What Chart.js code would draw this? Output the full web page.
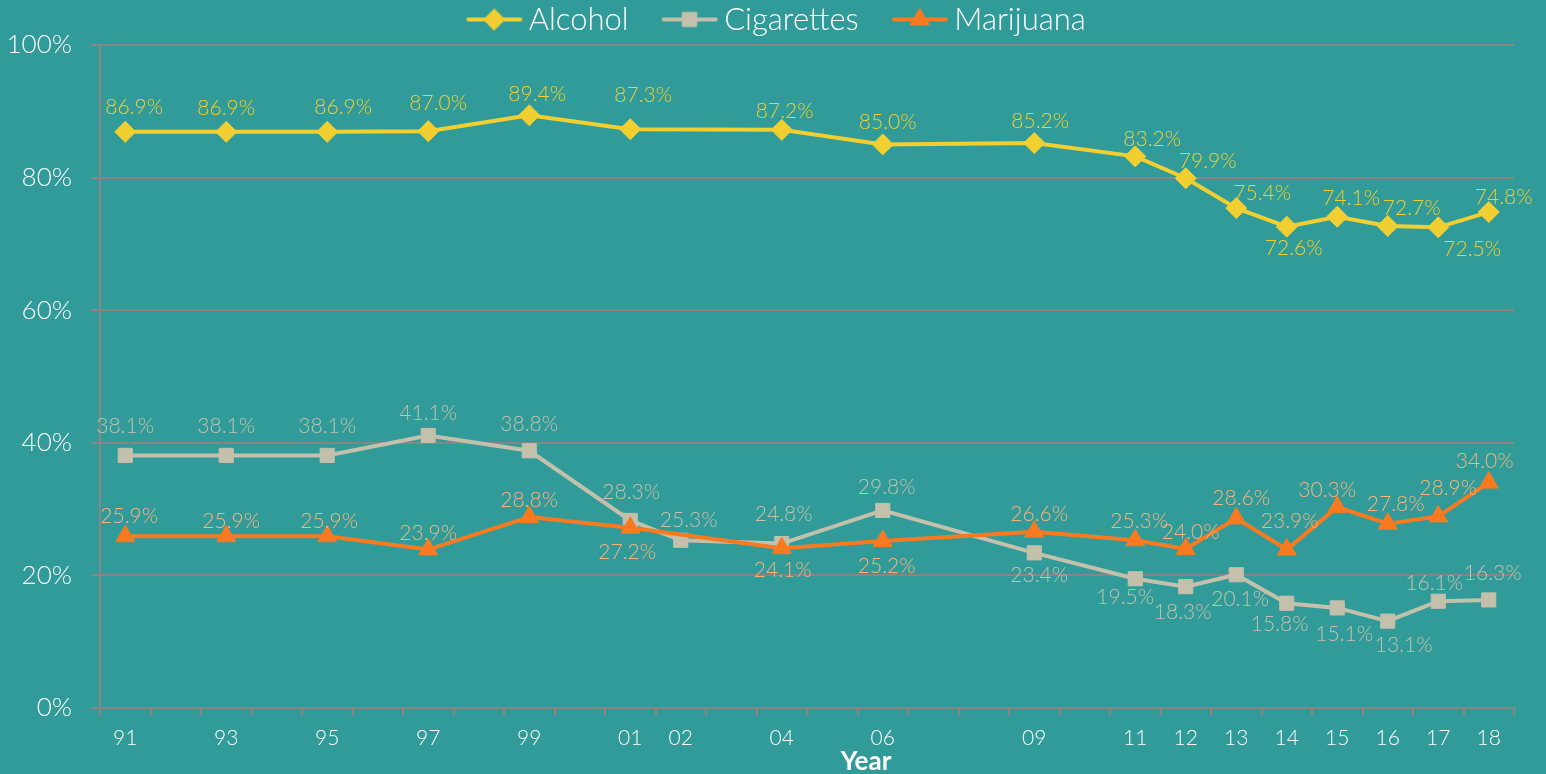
<!DOCTYPE html>
<html>
<head>
<meta charset="utf-8">
<script src="https://cdn.jsdelivr.net/npm/chart.js@4.4.1/dist/chart.umd.min.js"></script>
<style>
  html, body { margin: 0; padding: 0; background: #309b99; }
</style>
</head>
<body>
<canvas id="usageChart" width="1546" height="774"></canvas>
<script>
// one axis slot per year 1991-2018, only survey years carry a label
const axisLabels = ['91', '', '93', '', '95', '', '97', '', '99', '', '01', '02', '', '04', '', '06', '', '', '09', '', '11', '12', '13', '14', '15', '16', '17', '18'];
const surveyYears = ['91', '93', '95', '97', '99', '01', '02', '04', '06', '09', '11', '12', '13', '14', '15', '16', '17', '18'];

const alcohol = [86.9, 86.9, 86.9, 87.0, 89.4, 87.3, null, 87.2, 85.0, 85.2, 83.2, 79.9, 75.4, 72.6, 74.1, 72.7, 72.5, 74.8];
const cigarettes = [38.1, 38.1, 38.1, 41.1, 38.8, 28.3, 25.3, 24.8, 29.8, 23.4, 19.5, 18.3, 20.1, 15.8, 15.1, 13.1, 16.1, 16.3];
const marijuana = [25.9, 25.9, 25.9, 23.9, 28.8, 27.2, null, 24.1, 25.2, 26.6, 25.3, 24.0, 28.6, 23.9, 30.3, 27.8, 28.9, 34.0];
const yTicks = [0, 20, 40, 60, 80, 100];

// where each value label sits relative to its marker (dx, dy in px)
const alcoholLabelPos = [[9, -25], [0, -24], [16, -25], [10, -28], [8, -21], [13, -34], null, [3, -19], [5, -22], [6, -22], [17, -17], [22, -17], [26, -15], [7, 22], [14, -18], [24, -18], [34, 22], [15, -15]];
const cigarettesLabelPos = [[0, -29], [0, -29], [0, -29], [0, -22], [0, -27], [1, -28], [8, -20], [2, -29], [4, -23], [5, 22], [-10, 19], [-3, 26], [4, 24], [-7, 21], [7, 26], [16, 24], [-4, -18], [4, -27]];
const marijuanaLabelPos = [[4, -20], [5, -15], [2, -15], [0, -16], [0, -17], [-3, 25], null, [1, 22], [4, 25], [5, -17], [4, -19], [5, -17], [5, -20], [3, -28], [-10, -17], [8, -19], [10, -28], [-4, -21]];

const YELLOW = '#f2cf30';
const GREY = '#c3c1ac';
const ORANGE = '#f77a21';
const GRID = '#8a8483';
const FONT = 'Lato';

const labelPos = [alcoholLabelPos, cigarettesLabelPos, marijuanaLabelPos];
const labelColors = [YELLOW, '#c4c2ad', '#f5b480'];

function toSlots (values) {
  return axisLabels.map(l => {
    const i = surveyYears.indexOf(l);
    return i < 0 ? null : values[i];
  });
}

// legend swatch: short line with the series marker in the middle
function legendIcon (color, style, radius) {
  const c = document.createElement('canvas');
  c.width = 110;
  c.height = 28;
  const g = c.getContext('2d');
  g.strokeStyle = color;
  g.lineWidth = 4;
  g.lineCap = 'round';
  g.beginPath();
  g.moveTo(50, 14);
  g.lineTo(102, 14);
  g.stroke();
  g.fillStyle = color;
  g.lineWidth = 1;
  Chart.helpers.drawPoint(g, { pointStyle: style, radius: radius, rotation: 0, borderWidth: 1 }, 76, 14);
  return c;
}

const valueLabels = {
  id: 'valueLabels',
  afterDatasetsDraw (chart) {
    const ctx = chart.ctx;
    ctx.save();
    ctx.font = '300 21px ' + FONT;
    ctx.textAlign = 'center';
    ctx.textBaseline = 'middle';
    chart.data.datasets.forEach((ds, di) => {
      const meta = chart.getDatasetMeta(di);
      ctx.fillStyle = labelColors[di];
      meta.data.forEach((pt, i) => {
        const v = ds.data[i];
        if (v === null || v === undefined) return;
        const off = labelPos[di][surveyYears.indexOf(axisLabels[i])];
        ctx.fillText(v.toFixed(1) + '%', pt.x + off[0], pt.y + off[1]);
      });
    });
    ctx.restore();
  }
};

const axisTitle = {
  id: 'axisTitle',
  afterDraw (chart) {
    const ctx = chart.ctx;
    const area = chart.chartArea;
    ctx.save();
    ctx.font = 'bold 26px ' + FONT;
    ctx.fillStyle = '#ffffff';
    ctx.textAlign = 'center';
    ctx.textBaseline = 'middle';
    ctx.fillText('Year', (area.left + area.right) / 2 + 59, 762);
    ctx.restore();
  }
};

const series = [
  { label: 'Alcohol', values: alcohol, color: YELLOW, style: 'rectRot', radius: 10.5 },
  { label: 'Cigarettes', values: cigarettes, color: GREY, style: 'rect', radius: 10 },
  { label: 'Marijuana', values: marijuana, color: ORANGE, style: 'triangle', radius: 11 }
];
const legendIcons = series.map(s => legendIcon(s.color, s.style, s.radius));

new Chart(document.getElementById('usageChart'), {
  type: 'line',
  data: {
    labels: axisLabels,
    datasets: series.map((s, i) => ({
      label: s.label,
      data: toSlots(s.values),
      borderColor: s.color,
      backgroundColor: s.color,
      borderWidth: 4,
      pointStyle: s.style,
      pointRadius: s.radius,
      pointHoverRadius: s.radius,
      pointBorderWidth: 1,
      spanGaps: true,
      tension: 0,
      order: 2 - i
    }))
  },
  options: {
    responsive: false,
    animation: false,
    layout: { padding: { top: 4, left: 5, right: 32, bottom: 0 } },
    plugins: {
      tooltip: { enabled: false },
      legend: {
        position: 'top',
        labels: {
          usePointStyle: true,
          pointStyleWidth: 80,
          padding: 0,
          color: '#ffffff',
          font: { family: FONT, size: 31, weight: '300' },
          generateLabels: chart => chart.data.datasets.map((ds, i) => ({
            text: ds.label,
            pointStyle: legendIcons[i],
            fillStyle: ds.borderColor,
            strokeStyle: ds.borderColor,
            lineWidth: 0,
            hidden: false,
            fontColor: '#ffffff',
            datasetIndex: i
          }))
        }
      }
    },
    scales: {
      x: {
        offset: true,
        grid: { offset: true, drawOnChartArea: false, color: GRID, lineWidth: 2, tickLength: 8 },
        border: { color: GRID, width: 2 },
        ticks: { autoSkip: false, maxRotation: 0, color: '#ffffff', padding: 10, font: { family: FONT, size: 21, weight: '300' } },
        afterFit: s => { s.height = 66; }
      },
      y: {
        min: 0,
        max: 100,
        afterBuildTicks: s => { s.ticks = yTicks.map(v => ({ value: v })); },
        grid: { color: GRID, lineWidth: 2, tickLength: 9 },
        border: { color: GRID, width: 2 },
        ticks: { callback: v => v + '%', color: '#ffffff', padding: 19, font: { family: FONT, size: 26, weight: '300' } },
        afterFit: s => { s.width = 95; }
      }
    }
  },
  plugins: [valueLabels, axisTitle]
});
</script>
</body>
</html>
